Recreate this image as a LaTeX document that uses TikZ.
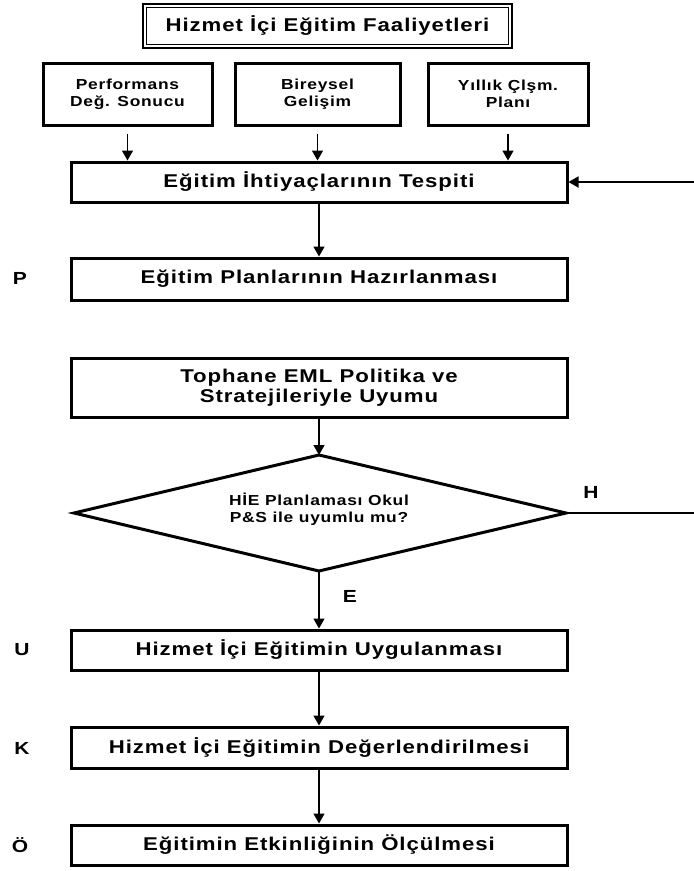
\documentclass[tikz,border=0pt]{standalone}
\usepackage{fontspec}
\setmainfont{Liberation Sans}[FakeStretch=1.2,LetterSpace=5]
\usetikzlibrary{arrows.meta}

\begin{document}
\begin{tikzpicture}[x=1pt,y=-1pt,
  bigtxt/.style={font=\bfseries\fontsize{18.5}{20}\selectfont},
  smalltxt/.style={font=\bfseries\fontsize{14.5}{17}\selectfont},
  stage/.style={draw, line width=3pt, minimum width=496pt, inner sep=0pt,
    align=center, bigtxt},
  srcbox/.style={draw, line width=3pt, inner sep=0pt, align=center,
    smalltxt, minimum height=62pt},
  flow/.style={line width=1.5pt, -{Triangle[length=10pt,width=11pt]}},
  feed/.style={line width=1.8pt},
  side/.style={font=\bfseries\fontsize{17.5}{19}\selectfont},
]
\useasboundingbox (0,0) rectangle (694,871);

% heading with a double frame
\node[draw, line width=2.6pt, minimum width=369pt, minimum height=44pt,
  inner sep=0pt, bigtxt] (title) at (327.5,26) {Hizmet İçi Eğitim Faaliyetleri};
\draw[line width=1.2pt]
  ([shift={(4.5pt,-4.5pt)}]title.north west) rectangle
  ([shift={(-4.5pt,4.5pt)}]title.south east);

% input sources
\node[srcbox, minimum width=169pt] (s1) at (127.5,94) {Performans\\Değ. Sonucu};
\node[srcbox, minimum width=165pt] (s2) at (317.5,94) {Bireysel\\Gelişim};
\node[srcbox, minimum width=160pt] (s3) at (508,94) {Yıllık Çlşm.\\Planı};

% main stages
\node[stage, minimum height=40pt] (tesp) at (319,182) {Eğitim İhtiyaçlarının Tespiti};
\node[stage, minimum height=42pt] (plan) at (319,279) {Eğitim Planlarının Hazırlanması};
\node[stage, minimum height=59pt] (toph) at (319,387.5) {Tophane EML Politika ve\\Stratejileriyle Uyumu};

% decision diamond
\coordinate (dtop) at (319,455);
\coordinate (dbot) at (319,571);
\coordinate (dleft) at (74,513);
\coordinate (dright) at (566,513);
\draw[line width=3pt, line join=miter] (dtop) -- (dright) -- (dbot) -- (dleft) -- cycle;
\node[align=center, smalltxt] (dec) at (319,509) {HİE Planlaması Okul\\P\&S ile uyumlu mu?};

\node[stage, minimum height=40pt] (uyg) at (319,650) {Hizmet İçi Eğitimin Uygulanması};
\node[stage, minimum height=41pt] (deg) at (319,747.5) {Hizmet İçi Eğitimin Değerlendirilmesi};
\node[stage, minimum height=40pt] (olc) at (319,845) {Eğitimin Etkinliğinin Ölçülmesi};

% side letters and branch labels
\node[side] (lp) at (20,278) {P};
\node[side] (lu) at (22,650) {U};
\node[side] (lk) at (22,748) {K};
\node[side] (lo) at (20,845) {Ö};
\node[side] (lh) at (591,492) {H};
\node[side] (le) at (350,596) {E};

% loose ends of the feedback branch
\coordinate (fin) at (694,182);
\coordinate (fout) at (694,513);

% connectors
\foreach \s in {s1,s2,s3}
  \draw[flow, shorten <=7pt] (\s.south) -- (\s.south |- tesp.north);
\draw[flow] (tesp) -- (plan);
\draw[flow] (toph) -- (dtop);
\draw[flow] (dbot) -- (uyg);
\draw[flow] (uyg) -- (deg);
\draw[flow] (deg) -- (olc);
\draw[feed, -{Triangle[length=10pt,width=11pt]}] (fin) -- (tesp.east);
\draw[feed] (dright) -- (fout);
\end{tikzpicture}
\end{document}
